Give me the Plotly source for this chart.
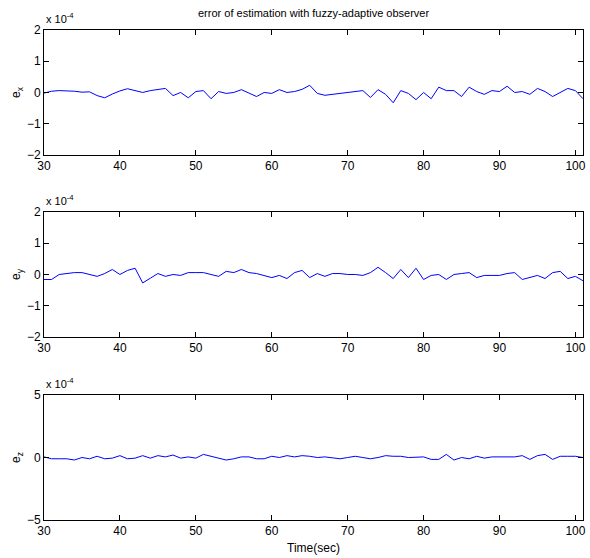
import plotly.graph_objects as go

t = list(range(30, 102))
ex = [-0.02, 0.04, 0.06, 0.06, 0.04, 0.01, 0.02, -0.10, -0.17, -0.05,
      0.05, 0.12, 0.06, 0.00, 0.06, 0.10, 0.13, -0.10, 0.00, -0.17,
      0.03, 0.06, -0.20, 0.03, -0.03, 0.00, 0.09, -0.02, -0.13, 0.00,
      -0.03, 0.09, 0.00, 0.03, 0.10, 0.23, -0.03, -0.09, -0.06, -0.03,
      0.00, 0.03, 0.06, -0.16, 0.09, -0.06, -0.33, 0.06, -0.03, -0.23,
      0.00, -0.20, 0.17, 0.06, 0.06, -0.13, 0.17, 0.03, -0.06, 0.06,
      0.03, 0.20, 0.00, 0.03, -0.06, 0.13, 0.03, -0.13, 0.00, 0.13,
      0.06, -0.20]
ey = [-0.16, -0.16, 0.00, 0.03, 0.06, 0.06, 0.00, -0.06, 0.03, 0.16,
      0.00, 0.13, 0.20, -0.27, -0.12, 0.03, -0.06, 0.00, -0.03, 0.06,
      0.06, 0.06, 0.00, -0.06, 0.10, 0.06, 0.16, 0.06, 0.03, -0.03,
      -0.10, -0.03, -0.13, 0.06, 0.13, -0.10, 0.03, -0.06, 0.03, 0.03,
      0.00, 0.00, -0.03, 0.06, 0.23, 0.06, -0.13, 0.16, -0.10, 0.20,
      -0.16, -0.03, 0.00, -0.16, 0.00, 0.03, 0.06, -0.10, -0.03, -0.03,
      -0.03, 0.03, 0.06, -0.16, -0.10, -0.03, -0.13, 0.06, 0.10, -0.13,
      -0.06, -0.20]
ez = [0.05, -0.10, -0.10, -0.10, -0.20, 0.00, -0.10, 0.10, -0.10, -0.05,
      0.15, -0.10, -0.05, 0.15, -0.05, 0.15, 0.05, 0.20, -0.05, 0.05,
      -0.05, 0.25, 0.10, -0.05, -0.20, -0.10, 0.05, 0.05, -0.10, -0.10,
      0.10, 0.00, 0.15, 0.05, 0.15, 0.10, 0.00, 0.05, 0.00, -0.10,
      0.00, 0.10, 0.00, -0.10, 0.00, 0.15, 0.10, 0.10, 0.00, 0.00,
      0.05, -0.15, -0.15, 0.25, -0.20, 0.00, -0.10, 0.10, -0.05, 0.05,
      0.05, 0.05, 0.05, 0.15, -0.15, 0.15, 0.25, -0.15, 0.10, 0.10,
      0.10, 0.00]

x_ticks = [30, 40, 50, 60, 70, 80, 90, 100]
y_ticks_xy = [-2, -1, 0, 1, 2]
y_ticks_z = [-5, 0, 5]
title = "error of estimation with fuzzy-adaptive observer"
ylabels = ["e<sub>x</sub>", "e<sub>y</sub>", "e<sub>z</sub>"]
xlabel = "Time(sec)"

FONT = "Liberation Sans, Arial, sans-serif"
fig = go.Figure()
series = [ex, ey, ez]
domains = [[0.745, 1.0], [0.3735, 0.6286], [0.0, 0.255]]
ranges = [[-2, 2], [-2, 2], [-5, 5]]
yticks = [y_ticks_xy, y_ticks_xy, y_ticks_z]

for i in range(3):
    sfx = "" if i == 0 else str(i + 1)
    fig.add_trace(go.Scatter(x=t, y=series[i], mode="lines",
                             line=dict(color="#0000ff", width=1),
                             xaxis="x" + sfx, yaxis="y" + sfx, showlegend=False))
    axcommon = dict(showline=True, linecolor="black", linewidth=1, mirror="ticks",
                    ticks="inside", ticklen=5, tickcolor="black", showgrid=False,
                    zeroline=False, tickfont=dict(family=FONT, size=12, color="black"))
    fig.layout["xaxis" + sfx] = dict(axcommon, domain=[0, 1], range=[30, 101],
                                     tickvals=x_ticks, anchor="y" + sfx,
                                     title=dict(text=xlabel if i == 2 else "",
                                                font=dict(family=FONT, size=12, color="black"),
                                                standoff=6))
    fig.layout["yaxis" + sfx] = dict(axcommon, domain=domains[i], range=ranges[i],
                                     tickvals=yticks[i], anchor="x" + sfx,
                                     title=dict(text=ylabels[i],
                                                font=dict(family=FONT, size=12, color="black"),
                                                standoff=3))
    fig.add_annotation(text="x 10<sup>-4</sup>", xref="paper", yref="paper",
                       x=0.0, y=domains[i][1], xanchor="left", yanchor="bottom",
                       yshift=3, showarrow=False, font=dict(family=FONT, size=11, color="black"))

fig.add_annotation(text=title, xref="paper", yref="paper", x=0.5, y=1.0,
                   xanchor="center", yanchor="bottom", yshift=9, showarrow=False,
                   font=dict(family=FONT, size=11, color="black"))

fig.update_layout(width=590, height=558, margin=dict(l=44, r=4, t=30, b=38),
                  plot_bgcolor="white", paper_bgcolor="white",
                  font=dict(family=FONT, size=12, color="black"))
fig.write_html("out.html", config={"displayModeBar": False},
               post_script="document.body.style.margin='0';document.body.style.overflow='hidden';")
